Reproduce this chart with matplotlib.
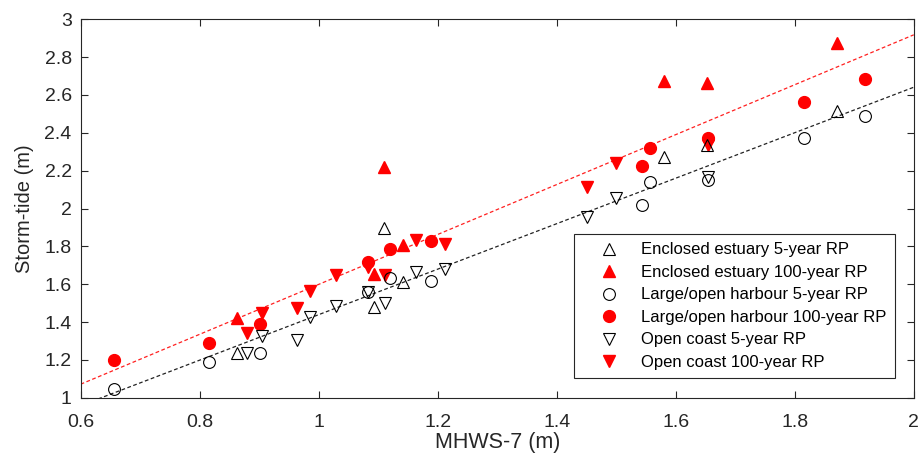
import matplotlib
matplotlib.use('Agg')
import matplotlib.pyplot as plt
import numpy as np

# site values (MHWS-7 vs storm-tide, m)
est_x = [0.863, 1.093, 1.109, 1.142, 1.581, 1.653, 1.871]
est_5 = [1.235, 1.481, 1.895, 1.613, 2.274, 2.336, 2.515]
est_100 = [1.420, 1.654, 2.221, 1.807, 2.674, 2.662, 2.873]

hbr_x = [0.656, 0.816, 0.901, 1.083, 1.120, 1.188, 1.544, 1.557, 1.655, 1.816, 1.918]
hbr_5 = [1.046, 1.190, 1.238, 1.560, 1.631, 1.617, 2.018, 2.138, 2.151, 2.371, 2.491]
hbr_100 = [1.198, 1.291, 1.389, 1.719, 1.786, 1.828, 2.225, 2.321, 2.371, 2.565, 2.683]

cst_x = [0.879, 0.904, 0.963, 0.985, 1.029, 1.083, 1.111, 1.163, 1.212, 1.451, 1.499, 1.655]
cst_5 = [1.235, 1.326, 1.305, 1.425, 1.485, 1.560, 1.499, 1.666, 1.679, 1.957, 2.054, 2.168]
cst_100 = [1.340, 1.449, 1.472, 1.564, 1.647, 1.692, 1.648, 1.834, 1.812, 2.115, 2.239, 2.336]

# fitted trend lines (slope, intercept)
fit_5 = (1.202, 0.237)
fit_100 = (1.319, 0.280)

labels = [
    "Enclosed estuary 5-year RP",
    "Enclosed estuary 100-year RP",
    "Large/open harbour 5-year RP",
    "Large/open harbour 100-year RP",
    "Open coast 5-year RP",
    "Open coast 100-year RP",
]

plt.rcParams['font.family'] = ['Liberation Sans', 'DejaVu Sans']
axcol = '#262626'

fig = plt.figure(figsize=(9.2, 4.65), dpi=100)
ax = fig.add_axes([0.0877, 0.1447, 0.9055, 0.8138])

xl = np.array([0.6, 2.0])
ax.plot(xl, fit_100[0] * xl + fit_100[1], color='#ff2020', ls=(0, (3, 2)), lw=0.9, zorder=1)
ax.plot(xl, fit_5[0] * xl + fit_5[1], color='#222222', ls=(0, (3, 2)), lw=0.9, zorder=1)

red = dict(color='red', ls='none', mec='red', zorder=2)
opn = dict(color='black', ls='none', mfc='none', mec='black', mew=0.8, zorder=3)

h = {}
h[1] = ax.plot(est_x, est_100, marker='^', ms=9, **red)[0]
h[3] = ax.plot(hbr_x, hbr_100, marker='o', ms=8.5, **red)[0]
h[5] = ax.plot(cst_x, cst_100, marker='v', ms=9, **red)[0]
h[0] = ax.plot(est_x, est_5, marker='^', ms=9, **opn)[0]
h[2] = ax.plot(hbr_x, hbr_5, marker='o', ms=8.5, **opn)[0]
h[4] = ax.plot(cst_x, cst_5, marker='v', ms=9, **opn)[0]

ax.set_xlim(0.6, 2)
ax.set_ylim(1, 3)
ax.set_xticks(np.arange(0.6, 2.01, 0.2))
ax.set_xticklabels(['0.6', '0.8', '1', '1.2', '1.4', '1.6', '1.8', '2'])
ax.set_yticks(np.arange(1, 3.01, 0.2))
ax.set_yticklabels(['1', '1.2', '1.4', '1.6', '1.8', '2', '2.2', '2.4', '2.6', '2.8', '3'])
ax.tick_params(direction='in', top=True, right=True, length=5, width=0.8,
               labelsize=14, colors=axcol)
ax.tick_params(axis='x', pad=12)
ax.tick_params(axis='y', pad=6.5)
for s in ax.spines.values():
    s.set_color(axcol)
    s.set_linewidth(0.8)

ax.set_xlabel('MHWS-7 (m)', fontsize=15.5, color=axcol)
ax.set_ylabel('Storm-tide (m)', fontsize=14.5, color=axcol)
ax.xaxis.set_label_coords(0.5, -0.09)
ax.yaxis.set_label_coords(-0.056, 0.5)

leg = ax.legend([h[i] for i in range(6)], labels, loc='lower right',
                bbox_to_anchor=(0.9776, 0.0513), borderaxespad=0, fontsize=12,
                fancybox=False, framealpha=1, edgecolor=axcol, handlelength=3.2,
                handletextpad=0.35, labelspacing=0.45, borderpad=0.5)
leg.get_frame().set_linewidth(0.8)

fig.savefig('out.png', dpi=100)
